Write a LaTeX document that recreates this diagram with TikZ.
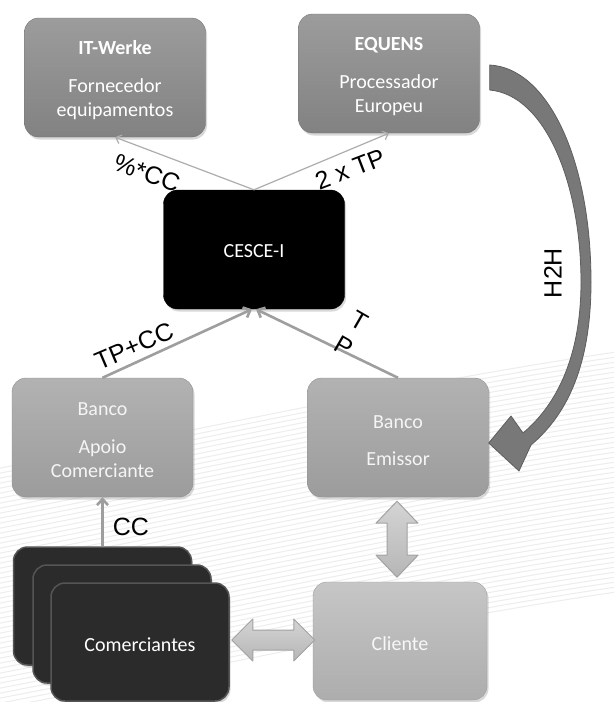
\documentclass[tikz,border=0pt]{standalone}
\usepackage{fontspec}
\setmainfont{Carlito}
\newfontfamily\arialfont{Liberation Sans}
\usetikzlibrary{arrows.meta,shadows,calc}
\definecolor{topA}{HTML}{9C9C9C}
\definecolor{botA}{HTML}{828282}
\definecolor{topB}{HTML}{B2B2B2}
\definecolor{botB}{HTML}{9C9C9C}
\definecolor{topC}{HTML}{C6C6C6}
\definecolor{botC}{HTML}{ADADAD}
\definecolor{comfill}{HTML}{2B2B2B}
\definecolor{comedge}{HTML}{555555}
\definecolor{linegray}{HTML}{9E9E9E}
\definecolor{htwo}{HTML}{787878}
\definecolor{htwoedge}{HTML}{5E5E5E}
\definecolor{fattop}{HTML}{D4D4D4}
\definecolor{fatbot}{HTML}{B6B6B6}
\definecolor{fatedge}{HTML}{A2A2A2}
\definecolor{stripecol}{HTML}{EDEDED}
\begin{document}
\begin{tikzpicture}[x=1pt,y=-1pt,
  box/.style={rounded corners=14pt, minimum width=181pt, minimum height=119pt,
    inner sep=0pt,
    drop shadow={opacity=0.3,shadow xshift=1.5pt,shadow yshift=-2.5pt}},
  boxtext/.style={align=center, text=white, inner sep=0pt, yshift=-3pt,
    font=\fontsize{20}{24}\selectfont},
  boxA/.style={box, top color=topA, bottom color=botA, draw=botA!90!black},
  boxB/.style={box, top color=topB, bottom color=botB, draw=botB!92!black},
  boxC/.style={box, top color=topC, bottom color=botC, draw=botC!92!black},
  boxK/.style={box, fill=black, draw=black},
  comb/.style={box, minimum width=178pt, minimum height=118pt, fill=comfill, draw=comedge, line width=1.5pt},
  lbl/.style={font=\arialfont\fontsize{25}{30}\selectfont, text=black, inner sep=0pt, align=center},
  thinarrow/.style={draw=linegray!85, line width=1.2pt, -{Straight Barb[length=5pt,width=9pt]}},
  thickarrow/.style={draw=linegray, line width=2.6pt, -{Straight Barb[length=6pt,width=11pt]}},
  fatarrow/.style={top color=fattop, bottom color=fatbot, draw=fatedge, line width=1pt, line join=round},
  stripe/.style={draw=stripecol, line width=1pt}
]
\useasboundingbox (0,0) rectangle (614,702);
\fill[white] (0,0) rectangle (614,702);

% faint background stripes
\begin{scope}
  \clip (0,0) rectangle (614,702);
  \foreach \i in {0,...,48} {
    \draw[stripe] (-10,470+5*\i) .. controls (200,430+5*\i) and (420,380+5*\i) .. (630,350+5*\i);
  }
\end{scope}

% boxes
\node[boxA, label={[boxtext, name=itwt]center:{\textbf{IT-Werke}\\[14pt]Fornecedor\\equipamentos}}] (itw) at (115,77.5) {};
\node[boxA, label={[boxtext, name=equt]center:{\textbf{EQUENS}\\[14pt]Processador\\Europeu}}] (equ) at (389,73.5) {};
\node[boxK, label={[boxtext, name=cescet, yshift=1pt]center:{CESCE-I}}] (cesce) at (254,249.5) {};
\node[boxB, label={[boxtext, name=bact, text=white!96!black]center:{Banco\\[14pt]Apoio\\Comerciante}}] (bac) at (102.5,437.5) {};
\node[boxB, label={[boxtext, name=bemt, text=white!96!black]center:{Banco\\[13pt]Emissor}}] (bem) at (398,437.5) {};
\node[boxC, minimum width=174pt, minimum height=118pt, label={[boxtext, name=clit, text=white!97!black]center:{Cliente}}] (cli) at (400,641) {};
\node[comb] (com3) at (102.5,606) {};
\node[comb] (com2) at (122,624) {};
\node[comb, label={[boxtext, name=com1t]center:{Comerciantes}}] (com1) at (140,642) {};

% thin connectors to top boxes
\draw[thinarrow] (cesce.north) -- (itw.south);
\draw[thinarrow] (cesce.north) -- (equ.south);
% thick connectors to CESCE-I
\draw[thickarrow] (bac.north) -- ([xshift=-2pt]cesce.south);
\draw[thickarrow] (bem.north) -- ([xshift=2pt]cesce.south);
% CC connector
\draw[thickarrow] (com3.north) -- (bac.south);

% labels
\node[lbl, rotate=-20] (lpcc) at (147,173) {\%*CC};
\node[lbl, rotate=21] (l2tp) at (350,169) {2 x TP};
\node[lbl, rotate=23] (ltpcc) at (134,346) {TP+CC};
\node[lbl, rotate=-30] (ltp) at (351.5,333.5) {T\\P};
\node[lbl] (lcc) at (131,527) {CC};
\node[lbl, rotate=90] (lh2h) at (553,273) {H2H};

% H2H curved arrow
\coordinate (hs) at ($(equ.east)+(10,-8.5)$);
\coordinate (htip) at ($(bem.east)+(0,5.5)$);
\fill[htwo, draw=htwoedge, line width=0.8pt, line join=round]
  (hs) .. controls (548,68) and (591,160) .. (591,282)
  .. controls (591,372) and (563,418) .. (531,445)
  -- (519,471) -- (htip) -- (511,416) -- (523,433)
  .. controls (553,408) and (581,362) .. (581,282)
  .. controls (581,185) and (546,95) .. ($(hs)+(0,25)$) -- cycle;

% fat double arrows
\draw[fatarrow] ($(com1.east)+(2,-2)$) -- ++(21,-21) -- ++(0,11) -- ++(41,0) -- ++(0,-11)
  -- ++(21,21) -- ++(-21,21) -- ++(0,-11) -- ++(-41,0) -- ++(0,11) -- cycle;
\draw[fatarrow] ($(bem.south)+(-1,4)$) -- ++(21,22) -- ++(-11,0) -- ++(0,32) -- ++(11,0)
  -- ++(-21,22) -- ++(-21,-22) -- ++(11,0) -- ++(0,-32) -- ++(-11,0) -- cycle;
\end{tikzpicture}
\end{document}
